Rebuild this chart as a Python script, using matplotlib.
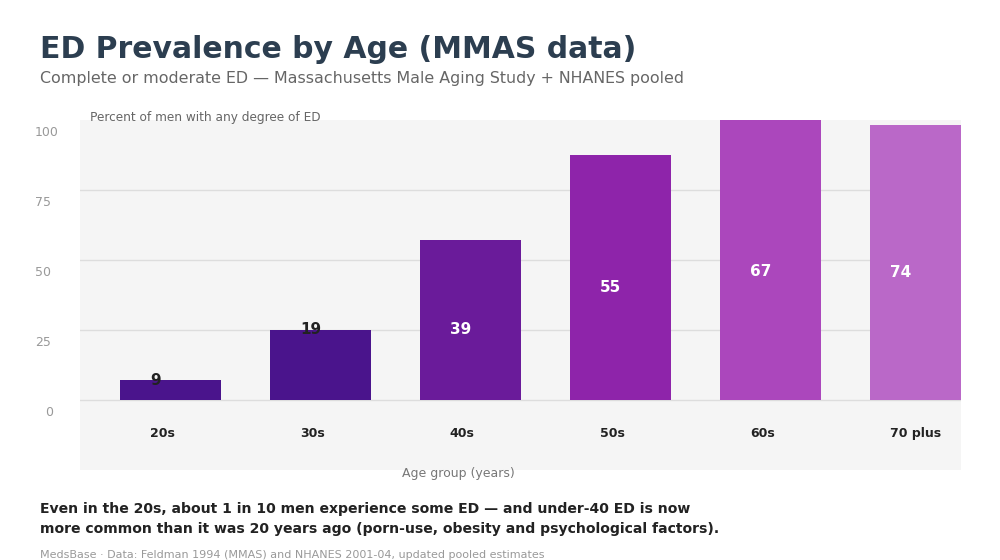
import matplotlib.pyplot as plt
import matplotlib.transforms as mtransforms

# age groups and prevalence labels (percent)
age_groups = ["20s", "30s", "40s", "50s", "60s", "70 plus"]
prevalence = [9, 19, 39, 55, 67, 74]
# bar heights as drawn in the reference (axis units)
bar_heights = [7.1, 25, 57, 87.5, 104, 98.2]
bar_colors = ["#4a148c", "#4a148c", "#6a1b9a", "#8e24aa", "#ab47bc", "#ba68c8"]
label_colors = ["#222222", "#222222", "white", "white", "white", "white"]
y_ticks = [0, 25, 50, 75, 100]

plt.rcParams["font.family"] = ["DejaVu Sans"]

fig = plt.figure(figsize=(10, 5.6), dpi=100)
ax = fig.add_axes([0.08, 1 - 470 / 560, 0.881, 350 / 560])
ax.set_facecolor("#f5f5f5")
for s in ax.spines.values():
    s.set_visible(False)

x = list(range(len(age_groups)))
ax.set_xlim(-0.603, 5.27)
ax.set_ylim(-25, 100)

# gridlines
for t in y_ticks[:-1]:
    ax.axhline(t, color="#dddddd", lw=1, zorder=1)

ax.bar(x, bar_heights, width=0.673, color=bar_colors, zorder=2)

ax.set_xticks([])
ax.set_yticks([])

# label anchor: a bit right of the bar's left edge (last bar is clipped)
def anchor(i):
    return min(i - 0.137, 4.8)

# value labels
for i, (h, v) in enumerate(zip(bar_heights, prevalence)):
    ly = h if h < 30 else min(h / 2 - 3.5, 46)
    ax.text(anchor(i), ly, str(v), ha="left", va="center", fontsize=11,
            fontweight="bold", color=label_colors[i], zorder=3)

# category labels inside the plot
for i, g in enumerate(age_groups):
    ax.text(anchor(i), -12, g, ha="left", va="center", fontsize=9,
            fontweight="bold", color="#222222", zorder=3)

# y tick labels, shifted down a little like the reference
shift = mtransforms.ScaledTranslation(0, -0.12, fig.dpi_scale_trans)
blend = mtransforms.blended_transform_factory(fig.transFigure, ax.transData)
for t in y_ticks:
    tx = 0.045 if t == 0 else 0.035
    ax.text(tx, t, str(t), ha="left", va="center", fontsize=9,
            color="#999999", transform=blend + shift, clip_on=False)

ax.text(0.09, 1 - 118 / 560, "Percent of men with any degree of ED",
        transform=fig.transFigure, ha="left", va="center", fontsize=8.7,
        color="#666666")
fig.text(0.458, 1 - 474 / 560, "Age group (years)", ha="center", va="center",
         fontsize=9, color="#777777")

fig.text(0.04, 1 - 49 / 560, "ED Prevalence by Age (MMAS data)", ha="left",
         va="center", fontsize=21.5, fontweight="bold", color="#2c3e50")
fig.text(0.04, 1 - 78 / 560,
         "Complete or moderate ED \u2014 Massachusetts Male Aging Study + NHANES pooled",
         ha="left", va="center", fontsize=11.4, color="#666666")

fig.text(0.04, 1 - 509 / 560,
         "Even in the 20s, about 1 in 10 men experience some ED \u2014 and under-40 ED is now",
         ha="left", va="center", fontsize=10.1, fontweight="bold", color="#222222")
fig.text(0.04, 1 - 529 / 560,
         "more common than it was 20 years ago (porn-use, obesity and psychological factors).",
         ha="left", va="center", fontsize=10.1, fontweight="bold", color="#222222")
fig.text(0.04, 1 - 555 / 560,
         "MedsBase \u00b7 Data: Feldman 1994 (MMAS) and NHANES 2001-04, updated pooled estimates",
         ha="left", va="center", fontsize=8, color="#999999")

fig.savefig("out.png", dpi=100, facecolor="white")
